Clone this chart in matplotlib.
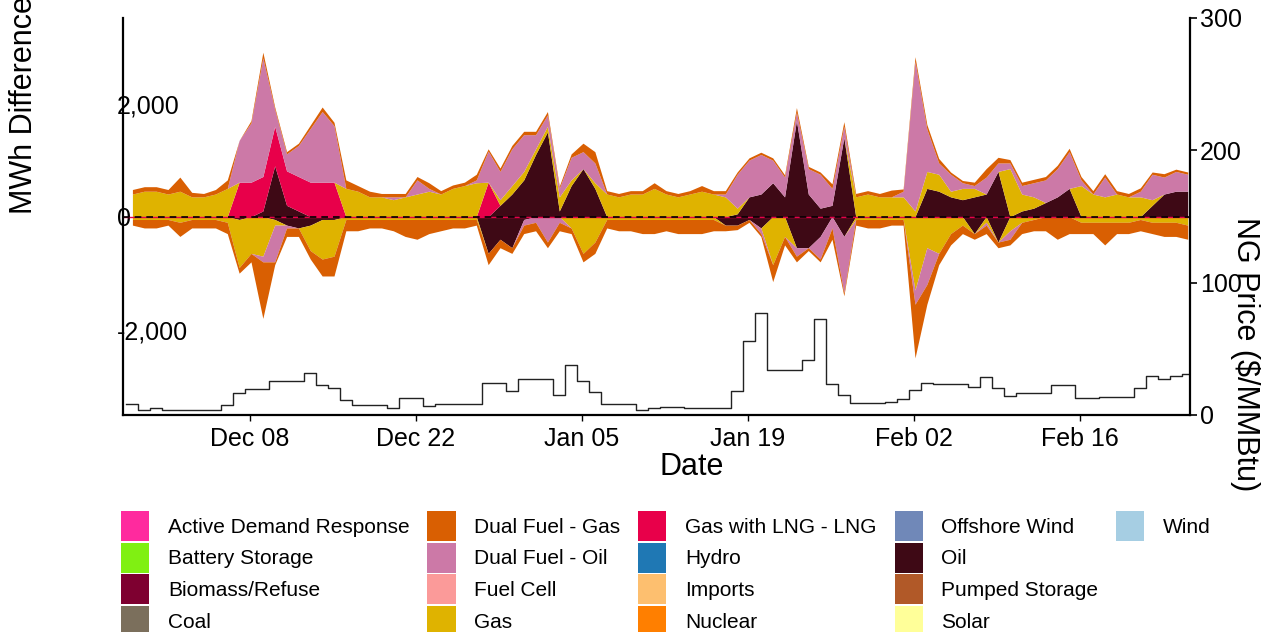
import matplotlib
matplotlib.use('Agg')
import matplotlib.pyplot as plt
from matplotlib.patches import Patch
import numpy as np
import pandas as pd

plt.rcParams['font.family'] = ['Liberation Sans', 'DejaVu Sans']

# daily values, first day starts 2024-11-27 14:00
start = pd.Timestamp('2024-11-27 14:00')

# MWh difference, positive parts (daily)
oil_pos = [0, 0, 0, 0, 0, 0, 0, 0, 0, 0,
           0, 100, 900, 200, 100, 0, 0, 0, 0, 0,
           0, 0, 0, 0, 0, 0, 0, 0, 0, 0,
           0, 200, 400, 650, 1100, 1500, 100, 550, 850, 500,
           0, 0, 0, 0, 0, 0, 0, 0, 0, 0,
           0, 50, 350, 400, 600, 350, 1700, 400, 150, 200,
           1400, 0, 0, 0, 0, 0, 0, 500, 450, 350,
           300, 350, 400, 800, 0, 100, 150, 250, 350, 500,
           0, 0, 0, 0, 0, 0, 200, 400, 450, 450]
lng_pos = [0, 0, 0, 0, 0, 0, 0, 0, 0, 610,
           610, 610, 700, 610, 610, 610, 610, 610, 0, 0,
           0, 0, 0, 0, 0, 0, 0, 0, 0, 0,
           610, 0, 0, 0, 0, 0, 0, 0, 0, 0,
           0, 0, 0, 0, 0, 0, 0, 0, 0, 0,
           0, 0, 0, 0, 0, 0, 0, 0, 0, 0,
           0, 0, 0, 0, 0, 0, 0, 0, 0, 0,
           0, 0, 0, 0, 0, 0, 0, 0, 0, 0,
           0, 0, 0, 0, 0, 0, 0, 0, 0, 0]
gas_pos = [400, 450, 450, 400, 450, 350, 350, 400, 500, 0,
           0, 0, 0, 0, 0, 0, 0, 0, 500, 450,
           350, 350, 300, 350, 400, 450, 400, 500, 550, 600,
           0, 100, 150, 150, 100, 100, 250, 100, 0, 100,
           400, 350, 400, 400, 500, 400, 350, 400, 450, 400,
           350, 100, 0, 0, 0, 0, 0, 0, 0, 0,
           0, 350, 400, 350, 350, 350, 100, 300, 300, 100,
           200, 150, 0, 0, 850, 300, 200, 0, 0, 0,
           550, 400, 350, 400, 350, 350, 100, 0, 0, 0]
dfo_pos = [0, 0, 0, 0, 0, 0, 0, 0, 0, 740,
           1050, 2100, 300, 300, 550, 950, 1250, 1000, 0, 0,
           0, 0, 50, 0, 250, 50, 0, 0, 0, 50,
           550, 500, 650, 650, 250, 200, 150, 400, 300, 350,
           0, 0, 0, 0, 0, 0, 0, 0, 0, 0,
           50, 600, 650, 700, 400, 350, 150, 450, 600, 300,
           200, 0, 0, 0, 0, 100, 2650, 750, 200, 300,
           100, 50, 300, 150, 100, 150, 250, 400, 500, 650,
           100, 0, 350, 0, 0, 100, 450, 300, 350, 300]
dfg_pos = [80, 80, 80, 80, 250, 80, 60, 80, 150, 0,
           40, 100, 40, 40, 40, 60, 80, 60, 150, 100,
           100, 60, 60, 60, 60, 100, 60, 60, 60, 100,
           40, 60, 60, 60, 60, 60, 40, 60, 150, 200,
           60, 60, 60, 60, 100, 60, 60, 60, 100, 60,
           60, 40, 40, 40, 40, 40, 80, 40, 40, 80,
           80, 60, 60, 60, 120, 40, 80, 80, 80, 40,
           40, 60, 150, 100, 60, 60, 60, 60, 60, 60,
           60, 60, 60, 60, 60, 60, 40, 60, 40, 40]

# MWh difference, negative parts (daily)
oil_neg = [0, 0, 0, 0, 0, 0, 0, 0, 0, -50,
           0, 0, -50, -150, -200, -150, -50, -50, 0, 0,
           0, 0, 0, 0, 0, 0, 0, 0, 0, 0,
           -650, -400, -550, -50, 0, 0, 0, 0, 0, 0,
           0, 0, 0, 0, 0, 0, 0, 0, 0, 0,
           -150, -150, -50, -200, 0, 0, -550, -550, -350, 0,
           -350, 0, 0, 0, 0, 0, 0, 0, 0, 0,
           0, -300, 0, -450, 0, 0, 0, 0, 0, 0,
           0, 0, 0, 0, 0, 0, 0, 0, 0, 0]
gas_neg = [-50, -50, -50, -50, -100, -50, -50, -50, -100, -850,
           -650, -700, -100, 0, 0, -450, -700, -650, -50, -50,
           -50, -50, -50, -50, -50, -50, -50, -50, -50, -50,
           0, 0, 0, 0, 0, 0, 0, -200, -650, -450,
           -50, -50, -50, -50, -50, -50, -50, -50, -50, -50,
           0, 0, 0, 0, -850, -350, 0, 0, 0, 0,
           0, -50, -50, -50, -50, -50, -1300, -550, -650, -300,
           -150, 0, -100, 0, -250, -100, -50, 0, 0, 0,
           -100, -100, -100, -100, -100, -50, -100, -100, -100, -150]
dfo_neg = [0, 0, 0, 0, 0, 0, 0, 0, 0, 0,
           0, -100, -650, -50, 0, 0, 0, 0, 0, 0,
           0, 0, 0, 0, 0, 0, 0, 0, 0, 0,
           0, 0, 0, -100, -100, -450, -100, 0, 0, 0,
           0, 0, 0, 0, 0, 0, 0, 0, 0, 0,
           0, 0, 0, -100, 0, 0, -150, 0, -400, -200,
           -1000, 0, 0, 0, 0, 0, -250, -650, 0, 0,
           0, 0, -50, 0, -150, 0, 0, 0, 0, 0,
           0, 0, 0, 0, 0, 0, 0, 0, 0, 0]
dfg_neg = [-100, -150, -150, -100, -250, -150, -150, -150, -200, -100,
           -150, -1000, -50, -150, -150, -150, -300, -350, -200, -200,
           -150, -150, -200, -300, -350, -250, -200, -150, -150, -100,
           -200, -150, -100, -150, -150, -100, -150, -100, -150, -200,
           -150, -200, -200, -250, -250, -200, -250, -250, -250, -200,
           -100, -80, -50, -50, -300, -150, -100, -50, -50, -200,
           -50, -100, -150, -150, -100, -100, -950, -350, -200, -200,
           -150, -100, -150, -100, -100, -200, -200, -250, -400, -300,
           -200, -200, -400, -200, -200, -200, -200, -250, -250, -250]

# NG price ($/MMBtu), daily
ng_price = [8.3, 3.8, 5.5, 3.8, 3.8, 3.8, 3.8, 3.8, 7.3, 16.9,
            19.9, 19.9, 25.4, 25.4, 25.4, 31.5, 22.7, 20.6, 11.1, 7.6,
            7.6, 7.6, 5.3, 13.1, 13.1, 7.0, 8.2, 8.2, 8.2, 8.2,
            24.0, 24.0, 18.4, 27.2, 27.2, 27.2, 15.4, 37.6, 25.9, 17.4,
            8.1, 8.1, 8.1, 3.8, 5.3, 6.3, 6.3, 5.5, 5.5, 5.5,
            5.5, 18.4, 55.9, 76.9, 34.2, 34.2, 34.2, 41.6, 72.3, 23.4,
            15.1, 8.8, 8.8, 8.8, 9.6, 12.1, 18.9, 24.0, 23.2, 23.2,
            23.2, 21.4, 28.5, 20.4, 14.6, 16.4, 16.4, 16.4, 22.4, 22.4,
            12.8, 12.8, 13.8, 13.8, 13.8, 20.6, 29.5, 27.4, 29.5, 30.8]

fuel_names = ['Active Demand Response', 'Battery Storage', 'Biomass/Refuse', 'Coal',
              'Dual Fuel - Gas', 'Dual Fuel - Oil', 'Fuel Cell', 'Gas',
              'Gas with LNG - LNG', 'Hydro', 'Imports', 'Nuclear',
              'Offshore Wind', 'Oil', 'Pumped Storage', 'Solar', 'Wind']
fuel_colors = ['#ff2a9e', '#80f012', '#7e0030', '#7b6f5c',
               '#d95f02', '#cc79a7', '#fb9a99', '#dfb300',
               '#e8004a', '#1f78b4', '#fdbf6f', '#ff7f00',
               '#7088b8', '#3e0915', '#b15928', '#ffff99', '#a6cee3']
col = dict(zip(fuel_names, fuel_colors))

n = len(ng_price)
day_starts = start + pd.to_timedelta(np.arange(n + 1), unit='D')
mid = day_starts[:-1] + pd.Timedelta(hours=12)

fig = plt.figure(figsize=(12.77, 6.32), dpi=100)
ax = fig.add_axes([123 / 1277, 1 - 415 / 632, 1067 / 1277, 397 / 632])

# stacked areas: positives upward, negatives downward
pos_layers = [(oil_pos, 'Oil'), (lng_pos, 'Gas with LNG - LNG'), (gas_pos, 'Gas'),
              (dfo_pos, 'Dual Fuel - Oil'), (dfg_pos, 'Dual Fuel - Gas')]
neg_layers = [(oil_neg, 'Oil'), (gas_neg, 'Gas'),
              (dfo_neg, 'Dual Fuel - Oil'), (dfg_neg, 'Dual Fuel - Gas')]
for layers in (pos_layers, neg_layers):
    base = np.zeros(n)
    for vals, name in layers:
        top = base + np.array(vals, dtype=float)
        ax.fill_between(mid, base, top, color=col[name], lw=0)
        base = top

ax.axhline(0, color='#e8004a', lw=1.0)
ax.axhline(0, color='black', lw=1.2, ls=(0, (4, 3)))

ax.set_ylim(-3510, 3515)
ax.set_yticks([-2000, 0, 2000])
ax.set_yticklabels(['-2,000', '0', '2,000'])
ax.tick_params(axis='y', length=0, pad=4.3, labelsize=18)
for t in ax.get_yticklabels():
    t.set_ha('left')

xticks = pd.to_datetime(['2024-12-08', '2024-12-22', '2025-01-05',
                         '2025-01-19', '2025-02-02', '2025-02-16'])
ax.set_xticks(xticks)
ax.set_xticklabels(['Dec 08', 'Dec 22', 'Jan 05', 'Jan 19', 'Feb 02', 'Feb 16'])
ax.tick_params(axis='x', length=4, width=1, labelsize=18, pad=5)
ax.set_xlim(pd.Timestamp('2024-12-08') - pd.Timedelta(days=10.711),
            pd.Timestamp('2025-02-16') + pd.Timedelta(days=9.277))

for s in ['top', 'right']:
    ax.spines[s].set_visible(False)
for s in ['left', 'bottom']:
    ax.spines[s].set_linewidth(1.6)

# NG price on the right axis
ax2 = ax.twinx()
ax2.step(day_starts, ng_price + [ng_price[-1]], where='post', color='#222222', lw=1.0)
ax2.set_ylim(0, 300)
ax2.set_yticks([0, 100, 200, 300])
ax2.tick_params(axis='y', length=5, width=1.2, labelsize=18, pad=2)
for s in ['top', 'left', 'bottom']:
    ax2.spines[s].set_visible(False)
ax2.spines['right'].set_linewidth(1.6)
ax2.set_xlim(ax.get_xlim())

fig.text(24 / 1277, 1 - 105 / 632, 'MWh Difference', rotation=90,
         ha='center', va='center', fontsize=22)
fig.text(1245 / 1277, 1 - 354 / 632, 'NG Price ($/MMBtu)', rotation=270,
         ha='center', va='center', fontsize=22)
fig.text(692 / 1277, 1 - 467 / 632, 'Date', ha='center', va='center', fontsize=22)

handles = [Patch(facecolor=c, edgecolor='none') for c in fuel_colors]
labels = list(fuel_names)
for _ in range(3):
    handles.append(Patch(facecolor='none', edgecolor='none'))
    labels.append('')
fig.legend(handles, labels, ncol=5, loc='upper left',
           bbox_to_anchor=(121 / 1277, 1 - 511 / 632), frameon=False,
           fontsize=15, handlelength=1.35, handleheight=1.85, handletextpad=0.9,
           columnspacing=0.86, labelspacing=0.07, borderpad=0, borderaxespad=0)

fig.savefig('out.png', dpi=100)
